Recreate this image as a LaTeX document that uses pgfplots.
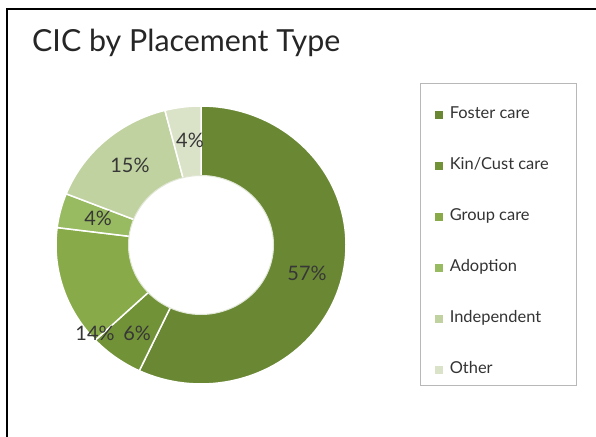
\documentclass[border=0pt]{standalone}
\usepackage{fontspec}
\setmainfont{Lato}
\usepackage{pgfplots}
\pgfplotsset{compat=1.18}

\definecolor{cFoster}{RGB}{106,136,52}
\definecolor{cKin}{RGB}{114,146,56}
\definecolor{cGroup}{RGB}{136,170,72}
\definecolor{cAdopt}{RGB}{152,186,96}
\definecolor{cIndep}{RGB}{192,210,160}
\definecolor{cOther}{RGB}{218,226,200}
\definecolor{lbl}{RGB}{55,55,55}

% one slice: cumulative start %, cumulative end %, colour, legend text
\newcommand\slice[4]{%
  \addplot[fill=#3, draw=white, line width=1.5bp, domain=90-3.6*#2:90-3.6*#1,
    samples=90, variable=\t] ({cos(\t)},{sin(\t)}) -- (axis cs:0,0) -- cycle;
  \addlegendentry{#4}}

\begin{document}
\begin{tikzpicture}[x=1bp,y=1bp]
\path[use as bounding box] (0,0) rectangle (596,437);
% frame of the slide
\draw[line width=1.6bp] (7,0) -- (7,428) -- (597,428);
\node[anchor=base west, inner sep=0pt, font=\fontsize{30.5}{34}\selectfont, text=black!85]
  at (32,385) {CIC by Placement Type};
% legend box
\draw[black!28, line width=0.8bp] (420,52) rectangle (576,354);

\begin{axis}[
    at={(56bp,53bp)}, anchor=south west,
    scale only axis, width=290bp, height=278bp,
    xmin=-1, xmax=1, ymin=-1, ymax=1,
    hide axis, clip=false,
    legend cell align=left,
    legend image code/.code={\fill[#1] (0bp,-5bp) rectangle (10bp,5bp);},
    legend style={at={(1.29,0.998)}, anchor=north west, draw=none, fill=none,
      font=\fontsize{16.5}{19}\selectfont, text=black!80,
      nodes={inner sep=0pt, text height=10bp, text depth=3bp},
      row sep=38bp, column sep=5bp},
  ]
\slice{0}{57}{cFoster}{Foster care}
\slice{57}{63}{cKin}{Kin/Cust care}
\slice{63}{77}{cGroup}{Group care}
\slice{77}{81}{cAdopt}{Adoption}
\slice{81}{96}{cIndep}{Independent}
\slice{96}{100}{cOther}{Other}
\addplot[forget plot, fill=white, draw=white!80!cFoster, line width=1bp,
  domain=0:360, samples=120, variable=\t] ({0.5*cos(\t)},{0.5*sin(\t)}) -- cycle;

\begin{scope}[every node/.style={font=\fontsize{20}{24}\selectfont, text=lbl}]
\node at (axis cs:0.731,-0.201) {57\%};
\node at (axis cs:-0.441,-0.633) {6\%};
\node at (axis cs:-0.731,-0.633) {14\%};
\node at (axis cs:-0.710,0.194) {4\%};
\node at (axis cs:-0.490,0.576) {15\%};
\node at (axis cs:-0.076,0.755) {4\%};
\end{scope}
\end{axis}
\end{tikzpicture}
\end{document}
